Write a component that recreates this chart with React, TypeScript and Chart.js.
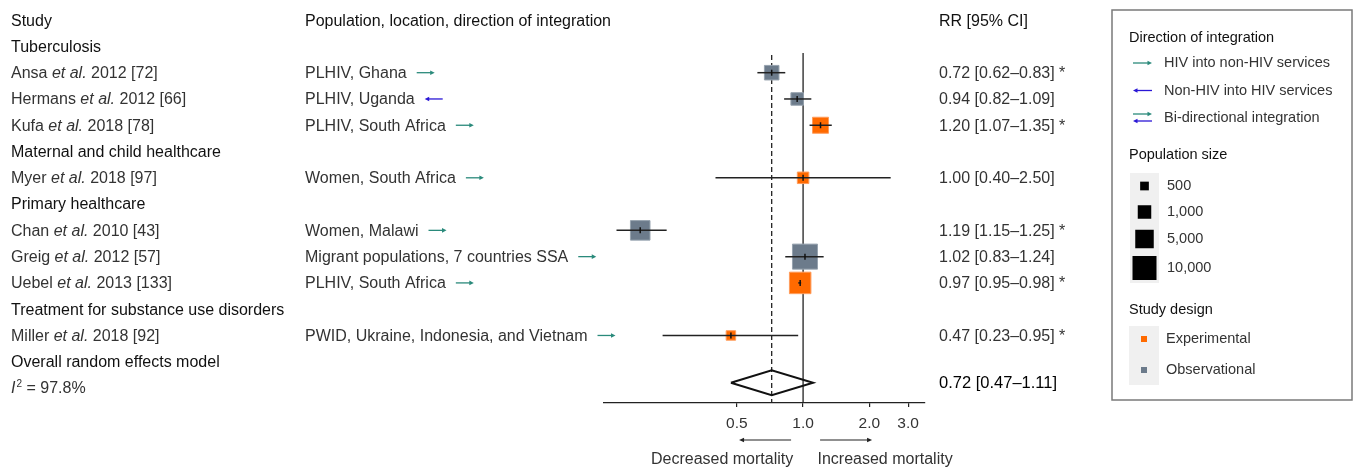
import React, { useEffect, useRef } from 'react';
import { Chart, registerables } from 'chart.js';

Chart.register(...registerables);

// ---------- data ----------
const headerLabels = ['Study', 'Population, location, direction of integration', 'RR [95% CI]'];

const groupNames = [
  'Tuberculosis',
  'Maternal and child healthcare',
  'Primary healthcare',
  'Treatment for substance use disorders',
  'Overall random effects model',
];
const groupRows = [1, 5, 7, 11, 13];

const studyAuthors = ['Ansa', 'Hermans', 'Kufa', 'Myer', 'Chan', 'Greig', 'Uebel', 'Miller'];
const studyYearRefs = ['2012 [72]', '2012 [66]', '2018 [78]', '2018 [97]', '2010 [43]', '2012 [57]', '2013 [133]', '2018 [92]'];
const studyRows = [2, 3, 4, 6, 8, 9, 10, 12];
const studyPopulations = [
  'PLHIV, Ghana',
  'PLHIV, Uganda',
  'PLHIV, South Africa',
  'Women, South Africa',
  'Women, Malawi',
  'Migrant populations, 7 countries SSA',
  'PLHIV, South Africa',
  'PWID, Ukraine, Indonesia, and Vietnam',
];
const studyDirections = ['HIV into non-HIV', 'Non-HIV into HIV', 'HIV into non-HIV', 'HIV into non-HIV', 'HIV into non-HIV', 'HIV into non-HIV', 'HIV into non-HIV', 'HIV into non-HIV'];
const studyRRLabels = [
  '0.72 [0.62–0.83] *',
  '0.94 [0.82–1.09]',
  '1.20 [1.07–1.35] *',
  '1.00 [0.40–2.50]',
  '1.19 [1.15–1.25] *',
  '1.02 [0.83–1.24]',
  '0.97 [0.95–0.98] *',
  '0.47 [0.23–0.95] *',
];
// plotted positions as drawn in the figure
const plotEstimate = [0.72, 0.94, 1.2, 1.0, 0.182, 1.02, 0.97, 0.47];
const plotLower = [0.62, 0.82, 1.07, 0.4, 0.142, 0.83, 0.95, 0.23];
const plotUpper = [0.83, 1.09, 1.35, 2.5, 0.24, 1.24, 0.98, 0.95];
const studySampleSizes = [1400, 870, 2250, 750, 5700, 11400, 7300, 560];
const studyDesigns = ['Observational', 'Observational', 'Experimental', 'Experimental', 'Observational', 'Observational', 'Experimental', 'Experimental'];

const overallEstimate = 0.72;
const overallLower = 0.47;
const overallUpper = 1.11;
const overallLabel = '0.72 [0.47–1.11]';
const overallRow = 13.8;
const heterogeneityLabel = ' = 97.8%';
const heterogeneityRow = 14;

const xTickValues = [0.5, 1, 2, 3];
const xTickLabels = ['0.5', '1.0', '2.0', '3.0'];

const legendDirectionLabels = ['HIV into non-HIV services', 'Non-HIV into HIV services', 'Bi-directional integration'];
const legendSizeValues = [500, 1000, 5000, 10000];
const legendSizeLabels = ['500', '1,000', '5,000', '10,000'];
const legendDesignLabels = ['Experimental', 'Observational'];

// ---------- styles ----------
const FONT = '"Liberation Sans", Arial, sans-serif';
const EXP_FILL = '#ff6a00';
const EXP_EDGE = '#ff9d5c';
const OBS_FILL = '#6c7b8b';
const OBS_EDGE = '#97a3af';
const TEAL = '#2a8a7b';
const BLUE = '#2a17d6';
const SIZE_ANCHOR_SIDES = [8.7, 13.5, 18.5, 24];

function sideFor(n: number): number {
  const lx = legendSizeValues.map((v) => Math.log10(v));
  const l = Math.log10(n);
  let i = 0;
  if (l <= lx[0]) i = 0;
  else if (l >= lx[lx.length - 1]) i = lx.length - 2;
  else {
    while (i < lx.length - 2 && l > lx[i + 1]) i++;
  }
  const t = (l - lx[i]) / (lx[i + 1] - lx[i]);
  return SIZE_ANCHOR_SIDES[i] + t * (SIZE_ANCHOR_SIDES[i + 1] - SIZE_ANCHOR_SIDES[i]);
}

function drawArrow(ctx: CanvasRenderingContext2D, x1: number, x2: number, y: number, color: string, lw = 1.3, head = 4.5, hw = 2.3) {
  const dir = x2 > x1 ? 1 : -1;
  ctx.save();
  ctx.strokeStyle = color;
  ctx.fillStyle = color;
  ctx.lineWidth = lw;
  ctx.beginPath();
  ctx.moveTo(x1, y);
  ctx.lineTo(x2 - dir * head * 0.6, y);
  ctx.stroke();
  ctx.beginPath();
  ctx.moveTo(x2, y);
  ctx.lineTo(x2 - dir * head, y - hw);
  ctx.lineTo(x2 - dir * head, y + hw);
  ctx.closePath();
  ctx.fill();
  ctx.restore();
}

function text(ctx: CanvasRenderingContext2D, s: string, x: number, y: number, color: string, size = 16, style = '', weight = '400', align: CanvasTextAlign = 'left') {
  ctx.font = `${style} ${weight} ${size}px ${FONT}`;
  ctx.fillStyle = color;
  ctx.textAlign = align;
  ctx.textBaseline = 'middle';
  ctx.fillText(s, x, y);
  return ctx.measureText(s).width;
}

const forestTextPlugin = {
  id: 'forestText',
  afterDraw(chart: any) {
    const ctx: CanvasRenderingContext2D = chart.ctx;
    const xs = chart.scales.x;
    const ys = chart.scales.y;
    const py = (r: number) => ys.getPixelForValue(r) + 1;
    const col1 = 11;
    const col2 = 305;
    const col3 = 939;
    const dark = '#111';
    const body = '#333';
    ctx.save();

    // header
    text(ctx, headerLabels[0], col1, py(0), dark);
    text(ctx, headerLabels[1], col2, py(0), dark);
    text(ctx, headerLabels[2], col3, py(0), dark);

    // groups
    groupNames.forEach((g, i) => text(ctx, g, col1, py(groupRows[i]), dark));

    // studies
    studyAuthors.forEach((a, i) => {
      const y = py(studyRows[i]);
      let x = col1;
      x += text(ctx, a + ' ', x, y, body);
      x += text(ctx, 'et al.', x, y, body, 16, 'italic');
      text(ctx, ' ' + studyYearRefs[i], x, y, body);
      const w = text(ctx, studyPopulations[i], col2, y, body);
      const ax = col2 + w + 10;
      if (studyDirections[i] === 'HIV into non-HIV') drawArrow(ctx, ax, ax + 18, y - 1, TEAL);
      else drawArrow(ctx, ax + 18, ax, y - 1, BLUE);
      text(ctx, studyRRLabels[i], col3, y, body);
    });

    // heterogeneity
    {
      const y = py(heterogeneityRow);
      let x = col1;
      x += text(ctx, 'I', x, y, body, 16, 'italic');
      x += 1;
      x += text(ctx, '2', x, y - 5, body, 10);
      text(ctx, heterogeneityLabel, x, y, body);
    }
    // overall label
    text(ctx, overallLabel, col3, py(overallRow), '#000', 16.5);

    // direction arrows under the axis
    const p1 = xs.getPixelForValue(1);
    drawArrow(ctx, p1 - 12, p1 - 64, 440, '#222', 1.1, 5, 2.2);
    drawArrow(ctx, p1 + 17, p1 + 69, 440, '#222', 1.1, 5, 2.2);
    text(ctx, 'Decreased mortality', p1 - 81, 460, body, 16, '', '400', 'center');
    text(ctx, 'Increased mortality', p1 + 82, 460, body, 16, '', '400', 'center');

    // legend box
    ctx.strokeStyle = '#7a7a7a';
    ctx.lineWidth = 1.5;
    ctx.strokeRect(1112, 10, 240, 390);
    const lx = 1129;
    const ix = 1164;
    const LS = 14.5;
    text(ctx, 'Direction of integration', lx, 38, dark, LS);
    drawArrow(ctx, 1133, 1152, 63, TEAL);
    text(ctx, legendDirectionLabels[0], ix, 63, body, LS);
    drawArrow(ctx, 1152, 1133, 90.5, BLUE);
    text(ctx, legendDirectionLabels[1], ix, 90.5, body, LS);
    drawArrow(ctx, 1133, 1152, 114, TEAL);
    drawArrow(ctx, 1152, 1133, 121, BLUE);
    text(ctx, legendDirectionLabels[2], ix, 118, body, LS);

    text(ctx, 'Population size', lx, 155, dark, LS);
    ctx.fillStyle = '#f0f0f0';
    ctx.fillRect(1130, 173, 29, 110);
    const sizeYs = [186, 212, 239, 268];
    legendSizeValues.forEach((v, i) => {
      const s = sideFor(v);
      ctx.fillStyle = '#000';
      ctx.fillRect(1144.5 - s / 2, sizeYs[i] - s / 2, s, s);
      text(ctx, legendSizeLabels[i], 1167, sizeYs[i], body, LS);
    });

    text(ctx, 'Study design', lx, 310, dark, LS);
    ctx.fillStyle = '#f0f0f0';
    ctx.fillRect(1129, 326, 30, 59);
    const desYs = [339, 370];
    [EXP_FILL, OBS_FILL].forEach((c, i) => {
      ctx.fillStyle = c;
      ctx.fillRect(1141, desYs[i] - 3, 6, 6);
      text(ctx, legendDesignLabels[i], 1166, desYs[i], body, LS);
    });

    ctx.restore();
  },
};

export default function App() {
  const ref = useRef<HTMLCanvasElement | null>(null);

  useEffect(() => {
    if (!ref.current) return;
    const squareData = studyRows.map((r, i) => ({ x: plotEstimate[i], y: r }));
    const isExp = studyDesigns.map((d) => d === 'Experimental');

    const ciDatasets = studyRows.map((r, i) => ({
      type: 'line' as const,
      data: [
        { x: plotLower[i], y: r },
        { x: plotUpper[i], y: r },
      ],
      borderColor: '#222',
      borderWidth: 1.5,
      pointRadius: 0,
      showLine: true,
      order: 2,
    }));

    const topRow = 1.25;
    const bottomRow = 14.57;

    const chart = new Chart(ref.current, {
      type: 'scatter',
      data: {
        datasets: [
          {
            type: 'line',
            data: [
              { x: 1, y: topRow },
              { x: 1, y: bottomRow },
            ],
            borderColor: '#222',
            borderWidth: 1.3,
            pointRadius: 0,
            showLine: true,
            order: 8,
          } as any,
          {
            type: 'line',
            data: [
              { x: overallEstimate, y: topRow + 0.08 },
              { x: overallEstimate, y: bottomRow },
            ],
            borderColor: '#222',
            borderWidth: 1.3,
            borderDash: [5, 3],
            pointRadius: 0,
            showLine: true,
            order: 8,
          } as any,
          {
            type: 'scatter',
            data: squareData,
            pointStyle: 'rect',
            pointRadius: studySampleSizes.map((n) => sideFor(n) / Math.SQRT2),
            pointBackgroundColor: isExp.map((e) => (e ? EXP_FILL : OBS_FILL)),
            pointBorderColor: isExp.map((e) => (e ? EXP_EDGE : OBS_EDGE)),
            pointBorderWidth: 1,
            order: 5,
          } as any,
          ...ciDatasets,
          {
            type: 'scatter',
            data: squareData,
            pointStyle: 'line',
            rotation: 90,
            pointRadius: 3,
            pointBorderColor: '#111',
            pointBorderWidth: 1.5,
            order: 1,
          } as any,
          {
            type: 'line',
            data: [
              { x: overallLower, y: overallRow },
              { x: overallEstimate, y: overallRow - 0.475 },
              { x: overallUpper, y: overallRow },
              { x: overallEstimate, y: overallRow + 0.475 },
              { x: overallLower, y: overallRow },
            ],
            borderColor: '#111',
            borderWidth: 2,
            pointRadius: 0,
            showLine: true,
            fill: false,
            order: 0,
          } as any,
        ],
      },
      options: {
        animation: false,
        responsive: true,
        maintainAspectRatio: false,
        layout: { autoPadding: false, padding: { left: 604, right: 434, top: 7, bottom: 0 } },
        plugins: { legend: { display: false }, tooltip: { enabled: false } },
        events: [],
        scales: {
          x: {
            type: 'logarithmic',
            min: 0.1246,
            max: 3.58,
            position: 'bottom',
            afterBuildTicks: (s: any) => {
              s.ticks = xTickValues.map((v) => ({ value: v }));
            },
            afterFit: (s: any) => {
              s.height = 66;
            },
            ticks: {
              autoSkip: false,
              maxRotation: 0,
              padding: 7,
              color: '#333',
              font: { family: FONT, size: 15.5 },
              callback: (v: any) => {
                const i = xTickValues.indexOf(Number(v));
                return i >= 0 ? xTickLabels[i] : '';
              },
            },
            grid: { display: true, drawOnChartArea: false, drawTicks: true, tickLength: 4, color: '#222', lineWidth: 1.2 },
            border: { display: true, color: '#222', width: 1.3 },
          },
          y: { type: 'linear', min: -0.5, max: 14.57, reverse: true, display: false },
        },
      } as any,
      plugins: [forestTextPlugin],
    });
    return () => chart.destroy();
  }, []);

  return (
    <div style={{ position: 'absolute', left: 0, top: 0, width: 1359, height: 469, background: '#fff' }}>
      <canvas ref={ref} />
    </div>
  );
}
